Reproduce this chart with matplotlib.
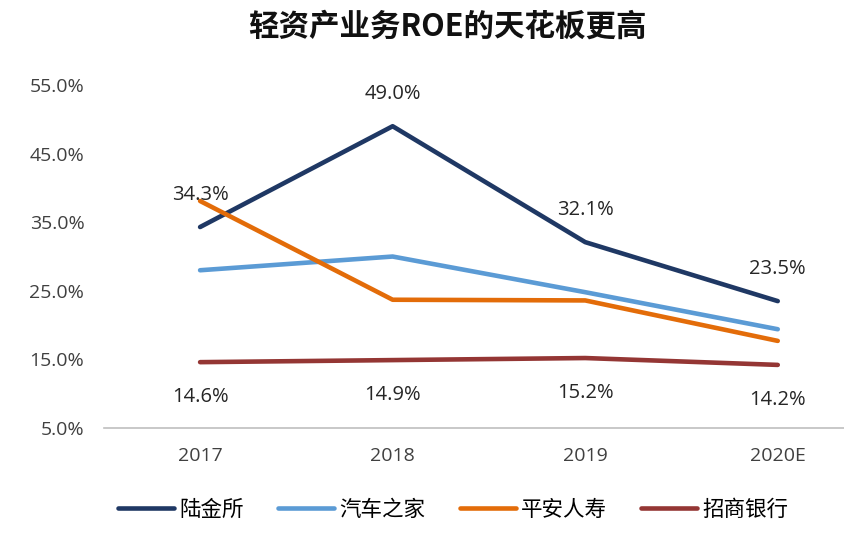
"""
ROE comparison line chart
"""

import matplotlib
matplotlib.use('Agg')
import matplotlib.pyplot as plt
from matplotlib.ticker import FuncFormatter

plt.rcParams['font.family'] = ['Noto Sans CJK SC', 'DejaVu Sans']

# Data
years = ['2017', '2018', '2019', '2020E']
lufax = [0.343, 0.490, 0.321, 0.235]
autohome = [0.280, 0.300, 0.248, 0.194]
pingan_life = [0.381, 0.237, 0.236, 0.177]
cmb = [0.146, 0.149, 0.152, 0.142]

series_names = ['陆金所', '汽车之家', '平安人寿', '招商银行']
colors = ['#1F3864', '#5B9BD5', '#E36C09', '#943634']

fig = plt.figure(figsize=(8.44, 5.35), dpi=100)
ax = fig.add_axes([0.123, 0.2, 0.877, 0.641])

x = list(range(len(years)))
for vals, name, c in zip([lufax, autohome, pingan_life, cmb], series_names, colors):
    ax.plot(x, vals, color=c, lw=3.3, label=name, solid_capstyle='round')

# Data labels
num_font = ['Open Sans', 'DejaVu Sans']
for xi, v in zip(x, lufax):
    ax.annotate(f'{v * 100:.1f}%', (xi, v), xytext=(0, 23), textcoords='offset points',
                ha='center', va='center', fontsize=14.5, color='#262626', family=num_font)
for xi, v in zip(x, cmb):
    ax.annotate(f'{v * 100:.1f}%', (xi, v), xytext=(0, -25), textcoords='offset points',
                ha='center', va='center', fontsize=14.5, color='#262626', family=num_font)

ax.set_xlim(-0.5, 3.344)
ax.set_ylim(0.05, 0.55)
ax.set_yticks([0.05, 0.15, 0.25, 0.35, 0.45, 0.55])
ax.yaxis.set_major_formatter(FuncFormatter(lambda v, p: f'{v * 100:.1f}%'))
ax.set_xticks(x)
ax.set_xticklabels(years)
ax.tick_params(length=0, labelsize=14, colors='#404040')
ax.tick_params(axis='x', pad=14)
ax.tick_params(axis='y', pad=14)
for lab in ax.get_xticklabels() + ax.get_yticklabels():
    lab.set_family(num_font)

for s in ['top', 'right', 'left']:
    ax.spines[s].set_visible(False)
ax.spines['bottom'].set_color('#BFBFBF')
ax.spines['bottom'].set_linewidth(1.2)

fig.text(0.53, 0.95, '轻资产业务ROE的天花板更高', ha='center', va='center',
         fontsize=22, fontweight='bold', color='#111111')

fig.legend(loc='center', bbox_to_anchor=(0.537, 0.047), ncol=4, frameon=False,
           fontsize=15.5, handlelength=2.6, columnspacing=1.6, handletextpad=0.25)

plt.savefig('out.png', dpi=100)
plt.close()
